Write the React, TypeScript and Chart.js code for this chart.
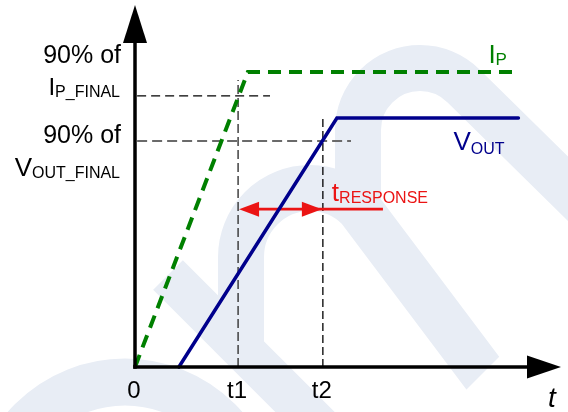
import { useEffect, useRef } from "react";
import { Chart, registerables } from "chart.js";
Chart.register(...registerables);

// ---- data (time in arbitrary units, level in % of axis) ----
const ipTimes = [0, 2.65, 9.0];
const ipValues = [0, 81.5, 81.5];
const voutTimes = [1.03, 4.74, 9.0];
const voutValues = [0, 68.8, 68.8];
const markerTimes = [2.42, 4.41]; // t1, t2
const markerTops = [79.3, 69.1];
const markerLabels = ["t1", "t2"];
const refLevels = [74.9, 62.4]; // 90% of IP_FINAL, 90% of VOUT_FINAL
const refStart = 0.05;
const refEnds = [3.17, 5.07];
const refMain = ["I", "V"];
const refSub = ["P_FINAL", "OUT_FINAL"];
const responseLevel = 43.6;
const responseTail = 5.82;
const xMax = 10;
const yMax = 100;

const FONT = "'Liberation Sans', Arial, sans-serif";
const GREEN = "rgb(0,128,0)";
const NAVY = "rgb(0,0,140)";
const RED = "rgb(235,20,20)";
const WM = "rgb(232,237,245)";

function drawSub(
  ctx: CanvasRenderingContext2D,
  x: number,
  y: number,
  main: string,
  sub: string,
  mainSize: number,
  subSize: number,
  color: string,
  align: "left" | "right",
  subDy: number
) {
  ctx.save();
  ctx.fillStyle = color;
  ctx.textBaseline = "alphabetic";
  ctx.textAlign = "left";
  ctx.font = `${mainSize}px ${FONT}`;
  const wm = ctx.measureText(main).width;
  ctx.font = `${subSize}px ${FONT}`;
  const ws = ctx.measureText(sub).width;
  const x0 = align === "left" ? x : x - wm - ws;
  ctx.font = `${mainSize}px ${FONT}`;
  ctx.fillText(main, x0, y);
  ctx.font = `${subSize}px ${FONT}`;
  ctx.fillText(sub, x0 + wm, y + subDy);
  ctx.restore();
}

const diagramPlugin = {
  id: "diagram",
  beforeDatasetsDraw(chart: any) {
    const ctx: CanvasRenderingContext2D = chart.ctx;
    ctx.save();
    ctx.strokeStyle = WM;
    ctx.lineCap = "butt";
    // bottom-left ring
    ctx.lineWidth = 47;
    ctx.beginPath();
    ctx.arc(125, 514, 132, Math.PI, 2 * Math.PI);
    ctx.stroke();
    // left diagonal band
    ctx.lineWidth = 42;
    ctx.beginPath();
    ctx.moveTo(168, 275);
    ctx.lineTo(320, 427);
    ctx.stroke();
    // middle arch
    ctx.lineWidth = 46;
    ctx.beginPath();
    ctx.moveTo(241, 345);
    ctx.lineTo(241, 257);
    ctx.arc(310, 257, 69, Math.PI, -Math.PI / 4);
    ctx.lineTo(500, 396);
    ctx.stroke();
    // right arch
    ctx.lineWidth = 46;
    ctx.beginPath();
    ctx.moveTo(358, 200);
    ctx.lineTo(358, 130);
    ctx.arc(420, 130, 62, Math.PI, -Math.PI / 4);
    ctx.lineTo(620, 240);
    ctx.stroke();
    ctx.restore();
    // clear below the cut of middle arch's right leg
    ctx.save();
    ctx.fillStyle = "#ffffff";
    ctx.beginPath();
    ctx.moveTo(466, 390);
    ctx.lineTo(540, 316);
    ctx.lineTo(568, 344);
    ctx.lineTo(568, 412);
    ctx.lineTo(466, 412);
    ctx.closePath();
    ctx.fill();
    ctx.restore();
  },
  afterDatasetsDraw(chart: any) {
    const ctx: CanvasRenderingContext2D = chart.ctx;
    const xs = chart.scales.x;
    const ys = chart.scales.y;
    const { left, right, top, bottom } = chart.chartArea;

    ctx.save();
    // response arrow heads
    const ry = ys.getPixelForValue(responseLevel);
    const ax1 = xs.getPixelForValue(markerTimes[0]);
    const ax2 = xs.getPixelForValue(markerTimes[1]);
    ctx.fillStyle = RED;
    ctx.beginPath();
    ctx.moveTo(ax1 + 1, ry);
    ctx.lineTo(ax1 + 21, ry - 7.5);
    ctx.lineTo(ax1 + 21, ry + 7.5);
    ctx.closePath();
    ctx.fill();
    ctx.beginPath();
    ctx.moveTo(ax2 - 1, ry);
    ctx.lineTo(ax2 - 21, ry - 7.5);
    ctx.lineTo(ax2 - 21, ry + 7.5);
    ctx.closePath();
    ctx.fill();

    // axes
    ctx.strokeStyle = "#000";
    ctx.fillStyle = "#000";
    ctx.lineWidth = 3.5;
    ctx.lineCap = "butt";
    ctx.beginPath();
    ctx.moveTo(left, bottom + 1.75);
    ctx.lineTo(left, top + 36);
    ctx.stroke();
    ctx.beginPath();
    ctx.moveTo(left, top);
    ctx.lineTo(left - 12, top + 38);
    ctx.lineTo(left + 12, top + 38);
    ctx.closePath();
    ctx.fill();
    ctx.beginPath();
    ctx.moveTo(left - 1.75, bottom);
    ctx.lineTo(right - 32, bottom);
    ctx.stroke();
    ctx.beginPath();
    ctx.moveTo(right, bottom);
    ctx.lineTo(right - 34, bottom - 11.5);
    ctx.lineTo(right - 34, bottom + 11.5);
    ctx.closePath();
    ctx.fill();

    // x labels
    ctx.font = `24px ${FONT}`;
    ctx.textAlign = "center";
    ctx.textBaseline = "alphabetic";
    ctx.fillText("0", xs.getPixelForValue(0) - 1, bottom + 31);
    markerLabels.forEach((lab, i) => {
      ctx.fillText(lab, xs.getPixelForValue(markerTimes[i]) - 1, bottom + 31);
    });
    ctx.font = `italic 28px ${FONT}`;
    ctx.fillText("t", right - 9, bottom + 40);

    // left labels
    const firstDy = [-33, 2];
    const secondDy = [-1, 35];
    refLevels.forEach((lv, i) => {
      const py = ys.getPixelForValue(lv);
      ctx.fillStyle = "#000";
      ctx.font = `25px ${FONT}`;
      ctx.textAlign = "right";
      ctx.fillText("90% of", left - 14, py + firstDy[i]);
      drawSub(ctx, left - 15, py + secondDy[i], refMain[i], refSub[i], i === 0 ? 24 : 26, 16, "#000", "right", 2);
    });

    // series labels
    const ipEndX = xs.getPixelForValue(ipTimes[ipTimes.length - 1]);
    const ipEndY = ys.getPixelForValue(ipValues[ipValues.length - 1]);
    drawSub(ctx, ipEndX - 30, ipEndY - 9, "I", "P", 26, 17, GREEN, "left", 2);
    const vEndX = xs.getPixelForValue(voutTimes[voutTimes.length - 1]);
    const vEndY = ys.getPixelForValue(voutValues[voutValues.length - 1]);
    drawSub(ctx, vEndX - 65, vEndY + 32, "V", "OUT", 26, 16, NAVY, "left", 4);
    drawSub(ctx, ax2 + 9, ry - 8, "t", "RESPONSE", 26, 16, RED, "left", 2);
    ctx.restore();
  },
};

export default function App() {
  const ref = useRef<HTMLCanvasElement | null>(null);
  useEffect(() => {
    if (!ref.current) return;
    const pts = (xs: number[], ys: number[]) => xs.map((x, i) => ({ x, y: ys[i] }));
    const thin = (pts: { x: number; y: number }[], color: string, width: number, dash: number[]) => ({
      data: pts,
      borderColor: color,
      borderWidth: width,
      borderDash: dash,
      pointRadius: 0,
      fill: false,
      tension: 0,
      clip: false as any,
      order: 5,
    });
    const datasets: any[] = [
      thin([{ x: refStart, y: refLevels[0] }, { x: refEnds[0], y: refLevels[0] }], "#000", 1.3, [9, 5]),
      thin([{ x: refStart, y: refLevels[1] }, { x: refEnds[1], y: refLevels[1] }], "#6a6a6a", 2, [10, 5]),
      thin([{ x: markerTimes[0], y: 0 }, { x: markerTimes[0], y: markerTops[0] }], "#333", 1.4, [9, 4]),
      thin([{ x: markerTimes[1], y: 0 }, { x: markerTimes[1], y: markerTops[1] }], "#000", 1.3, [8, 4]),
      {
        data: [{ x: markerTimes[0] + 0.3, y: responseLevel }, { x: responseTail, y: responseLevel }],
        borderColor: RED,
        borderWidth: 2.8,
        pointRadius: 0,
        fill: false,
        clip: false,
        order: 3,
      },
      {
        label: "IP",
        data: pts(ipTimes, ipValues),
        borderColor: GREEN,
        borderWidth: 4,
        borderDash: [13, 8],
        pointRadius: 0,
        fill: false,
        tension: 0,
        clip: false,
        order: 1,
      },
      {
        label: "VOUT",
        data: pts(voutTimes, voutValues),
        borderColor: NAVY,
        borderWidth: 3.5,
        borderCapStyle: "round",
        pointRadius: 0,
        fill: false,
        tension: 0,
        clip: false,
        order: 2,
      },
    ];
    const chart = new Chart(ref.current, {
      type: "line",
      data: { datasets },
      options: {
        animation: false,
        responsive: true,
        maintainAspectRatio: false,
        layout: { padding: { left: 135, right: 7, top: 5, bottom: 45 } },
        plugins: { legend: { display: false }, tooltip: { enabled: false } },
        events: [],
        scales: {
          x: { type: "linear", min: 0, max: xMax, display: false },
          y: { type: "linear", min: 0, max: yMax, display: false },
        },
      },
      plugins: [diagramPlugin],
    });
    return () => chart.destroy();
  }, []);
  return (
    <div style={{ position: "absolute", left: 0, top: 0, width: 568, height: 412, background: "#fff" }}>
      <canvas ref={ref} />
    </div>
  );
}
